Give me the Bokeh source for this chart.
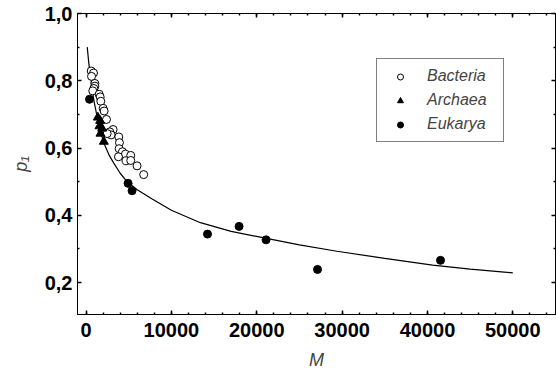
from bokeh.plotting import figure
from bokeh.models import (LinearAxis, FixedTicker, CustomJSTickFormatter, Range1d,
                          Legend, LegendItem, BasicTickFormatter)
from bokeh.embed import file_html
from bokeh.resources import INLINE

# --- data ---
bacteria_M = [604, 876, 643, 1032, 1032, 915, 790, 1538, 1655, 1733, 2005, 2122, 2395,
              3173, 2784, 2940, 2473, 3836, 3914, 3875, 4264, 4614, 5238, 3797, 4692,
              5238, 5977, 6756]
bacteria_p = [0.829, 0.823, 0.813, 0.792, 0.784, 0.777, 0.770, 0.760, 0.752, 0.739, 0.718,
              0.710, 0.685, 0.655, 0.648, 0.639, 0.643, 0.633, 0.616, 0.598, 0.589, 0.582,
              0.578, 0.574, 0.562, 0.563, 0.547, 0.521]

archaea_M = [1382, 1655, 1577, 1889, 1694, 2083]
archaea_p = [0.691, 0.681, 0.665, 0.658, 0.643, 0.619]

eukarya_M = [409, 4926, 5393, 14230, 17930, 21090, 27120, 41530]
eukarya_p = [0.745, 0.495, 0.473, 0.344, 0.367, 0.327, 0.239, 0.266]

curve_M = [140, 330, 530, 720, 915, 1300, 1700, 2100, 2700, 3250, 4000, 4800, 6000,
           7700, 10000, 13400, 17000, 21000, 25000, 29400, 35000, 40600, 45000, 50000]
curve_p = [0.900, 0.851, 0.811, 0.777, 0.742, 0.693, 0.648, 0.614, 0.579, 0.555, 0.525,
           0.500, 0.476, 0.449, 0.415, 0.378, 0.352, 0.332, 0.312, 0.293, 0.272, 0.252,
           0.240, 0.229]

x_ticks = [0, 10000, 20000, 30000, 40000, 50000]
x_minor = [0, 2000, 4000, 6000, 8000, 10000, 12000, 14000, 16000, 18000, 20000, 22000,
           24000, 26000, 28000, 30000, 32000, 34000, 36000, 38000, 40000, 42000, 44000,
           46000, 48000, 50000, 52000, 54000]
y_ticks = [0.2, 0.4, 0.6, 0.8, 1.0]
y_minor = [0.1, 0.3, 0.5, 0.7, 0.9]

FONT = "Liberation Sans"

p = figure(width=556, height=378, output_backend="svg", toolbar_location=None,
           x_range=Range1d(-1000, 55000), y_range=Range1d(0.105, 1.0),
           min_border_left=77, min_border_right=1, min_border_top=13, min_border_bottom=64)
p.xgrid.visible = False
p.ygrid.visible = False
p.outline_line_color = "black"
p.outline_line_width = 1
p.background_fill_color = "white"
p.border_fill_color = "white"

yfmt = CustomJSTickFormatter(code="return tick.toFixed(1).replace('.', ',');")
blank = CustomJSTickFormatter(code="return '';")

def style(ax, labels=True):
    ax.axis_line_color = "black"
    ax.axis_line_width = 1
    ax.major_tick_line_color = "black"
    ax.minor_tick_line_color = "black"
    ax.major_tick_in = 4
    ax.major_tick_out = 0
    ax.minor_tick_in = 2
    ax.minor_tick_out = 0
    ax.major_tick_line_width = 1.5
    ax.minor_tick_line_width = 1.5
    if labels:
        ax.major_label_text_font = FONT
        ax.major_label_text_font_style = "bold"
        ax.major_label_text_font_size = "20px"
        ax.major_label_text_color = "black"
    else:
        ax.formatter = blank
        ax.major_label_text_font_size = "1px"
        ax.major_label_standoff = 0
        ax.axis_label = None

xa = p.xaxis[0]
style(xa)
xa.ticker = FixedTicker(ticks=x_ticks, minor_ticks=x_minor)
xa.formatter = BasicTickFormatter(use_scientific=False)
xa.major_label_standoff = 8
xa.axis_label = "M"
xa.axis_label_text_font = FONT
xa.axis_label_text_font_style = "italic"
xa.axis_label_text_font_size = "18px"
xa.axis_label_standoff = 10

ya = p.yaxis[0]
style(ya)
ya.ticker = FixedTicker(ticks=y_ticks, minor_ticks=y_minor)
ya.formatter = yfmt
ya.major_label_standoff = 5
ya.axis_label = "p\u2081"
ya.axis_label_text_font = FONT
ya.axis_label_text_font_style = "italic"
ya.axis_label_text_font_size = "18px"
ya.axis_label_standoff = 11

top = LinearAxis(ticker=FixedTicker(ticks=x_ticks, minor_ticks=x_minor))
style(top, labels=False)
p.add_layout(top, "above")
right = LinearAxis(ticker=FixedTicker(ticks=y_ticks, minor_ticks=y_minor))
style(right, labels=False)
p.add_layout(right, "right")

line = p.line(curve_M, curve_p, line_color="black", line_width=1.2)
rb = p.scatter(bacteria_M, bacteria_p, marker="circle", size=8, fill_color="white",
               line_color="black", line_width=1)
ra = p.scatter(archaea_M, archaea_p, marker="triangle", size=9, fill_color="black",
               line_color="black")
re = p.scatter(eukarya_M, eukarya_p, marker="circle", size=8, fill_color="black",
               line_color="black")

legend = Legend(items=[LegendItem(label="Bacteria", renderers=[rb]),
                       LegendItem(label="Archaea", renderers=[ra]),
                       LegendItem(label="Eukarya", renderers=[re])],
                location=(299, 172))
legend.label_text_font = FONT
legend.label_text_font_style = "italic"
legend.label_text_font_size = "16px"
legend.label_height = 20
legend.label_width = 69
legend.glyph_height = 15
legend.glyph_width = 32
legend.label_standoff = 11
legend.spacing = 4
legend.padding = 7
legend.margin = 0
legend.border_line_color = "black"
legend.border_line_width = 1
legend.background_fill_color = "white"
legend.background_fill_alpha = 1
p.add_layout(legend)

open("out.html", "w").write(file_html(p, INLINE))
